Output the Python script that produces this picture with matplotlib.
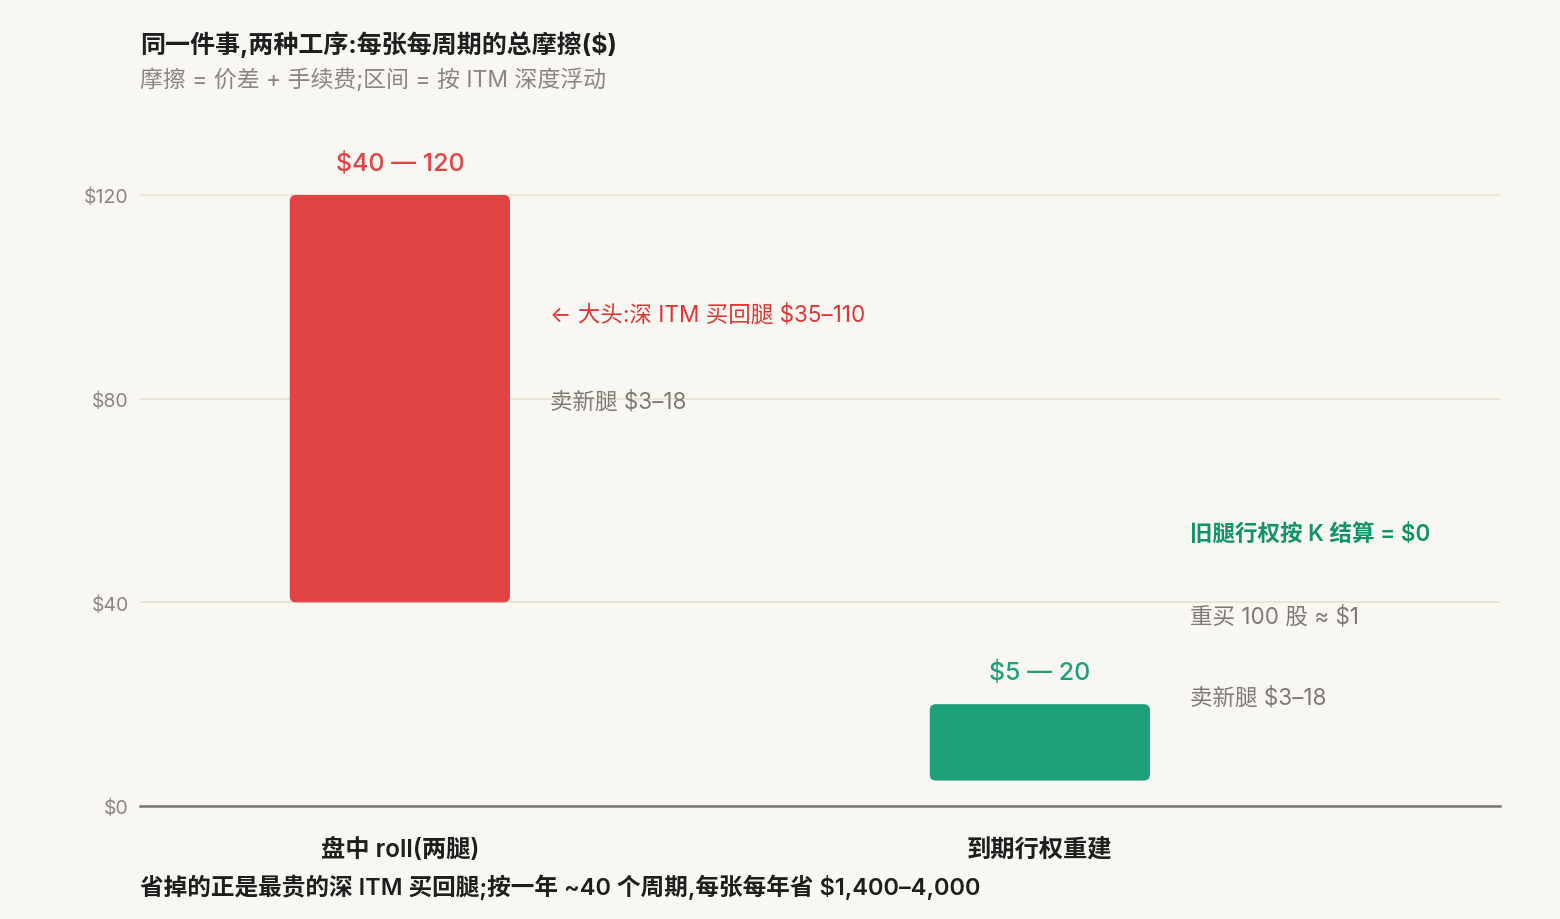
import matplotlib.pyplot as plt
from matplotlib.patches import FancyBboxPatch
import numpy as np

plt.rcParams['font.family'] = ['Inter', 'Noto Sans CJK SC', 'DejaVu Sans']

# data
categories = ["盘中 roll(两腿)", "到期行权重建"]
lows = [40, 5]
highs = [120, 20]
range_labels = ["$40 — 120", "$5 — 20"]
bar_colors = ["#E04444", "#1EA07A"]

yticks = [0, 40, 80, 120]
ytick_labels = ["$0", "$40", "$80", "$120"]

# notes beside each bar: (value position, text, style)
roll_notes = [(96.5, "← 大头:深 ITM 买回腿 $35–110", "red"),
              (79.4, "卖新腿 $3–18", "gray")]
expiry_notes = [(53.4, "旧腿行权按 K 结算 = $0", "green"),
                (37.3, "重买 100 股 ≈ $1", "gray"),
                (21.4, "卖新腿 $3–18", "gray")]

title = "同一件事,两种工序:每张每周期的总摩擦($)"
subtitle = "摩擦 = 价差 + 手续费;区间 = 按 ITM 深度浮动"
footer = "省掉的正是最贵的深 ITM 买回腿;按一年 ~40 个周期,每张每年省 $1,400–4,000"

bg = "#F9F7F2"
note_colors = {"red": "#E03535", "gray": "#7F7A75", "green": "#11936A"}

fig = plt.figure(figsize=(15.6, 9.2), dpi=100, facecolor=bg)
ax = fig.add_axes([140/1560, 1 - 807/920, 1360/1560, (807-150)/920])
ax.set_facecolor(bg)

x = np.arange(len(categories))
width = 0.344
ax.set_xlim(-0.406, 1.719)
ax.set_ylim(0, 120 * (807-150) / (807-196))

# rounded range bars
for xi, lo, hi, c in zip(x, lows, highs, bar_colors):
    r = 0.0094
    p = FancyBboxPatch((xi - width/2, lo), width, hi - lo,
                       boxstyle=f"round,pad=0,rounding_size={r}",
                       mutation_aspect=125, facecolor=c, edgecolor="none",
                       zorder=3)
    ax.add_patch(p)

for xi, hi, lab, c in zip(x, highs, range_labels, bar_colors):
    ax.annotate(lab, (xi, hi), xytext=(0, 23), textcoords="offset points",
                ha="center", va="center", fontsize=18, color=c,
                fontweight="medium")

for y, txt, st in roll_notes:
    ax.text(x[0] + width/2 + 0.0625, y, txt, ha="left", va="center",
            fontsize=16.2, color=note_colors[st],
            fontweight="semibold" if st == "green" else "normal")
for y, txt, st in expiry_notes:
    ax.text(x[1] + width/2 + 0.0625, y, txt, ha="left", va="center",
            fontsize=16.2, color=note_colors[st],
            fontweight="semibold" if st == "green" else "normal")

# axes styling
ax.set_yticks(yticks, labels=ytick_labels)
ax.set_xticks(x, labels=categories)
ax.tick_params(axis="y", length=0, labelsize=14, labelcolor="#8A8580", pad=8)
ax.tick_params(axis="x", length=0, labelsize=17.5, pad=22)
for lbl in ax.get_xticklabels():
    lbl.set_fontweight("semibold")
    lbl.set_color("#1E1E1E")
for s in ["top", "right", "left"]:
    ax.spines[s].set_visible(False)
ax.spines["bottom"].set_color("#7A7570")
ax.spines["bottom"].set_linewidth(1.8)
ax.grid(True, axis="y", color="#EBE4D8", linewidth=1.4, zorder=0)
ax.set_axisbelow(True)

fig.text(140/1560, 1 - 45/920, title, ha="left", va="center",
         fontsize=18, fontweight="bold", color="#1E1E1E")
fig.text(140/1560, 1 - 80/920, subtitle, ha="left", va="center",
         fontsize=16.5, color="#8A8580")
fig.text(140/1560, 1 - 887/920, footer, ha="left", va="center",
         fontsize=17, fontweight="semibold", color="#1E1E1E")

fig.savefig("out.png", dpi=100, facecolor=bg)
